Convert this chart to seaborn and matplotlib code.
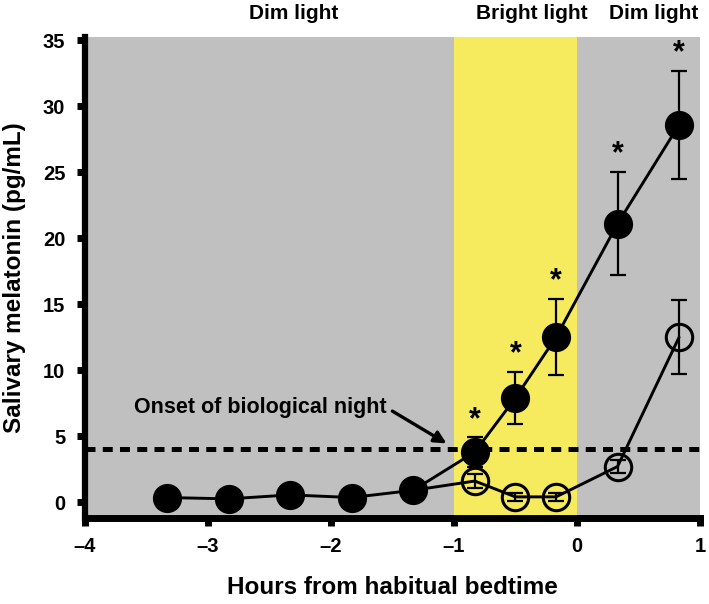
import matplotlib
matplotlib.use("Agg")
import matplotlib.pyplot as plt
import seaborn as sns
import numpy as np
import pandas as pd

# Data
bright_x = [-3.33, -2.83, -2.33, -1.83, -1.33, -0.83, -0.50, -0.17, 0.33, 0.83]
bright_y = [0.35, 0.25, 0.55, 0.35, 0.9, 3.8, 7.9, 12.5, 21.1, 28.6]
bright_err = [0.3, 0.3, 0.3, 0.3, 0.4, 1.1, 2.0, 2.9, 3.9, 4.1]
dim_x = [-1.33, -0.83, -0.50, -0.17, 0.33, 0.83]
dim_y = [0.9, 1.6, 0.4, 0.4, 2.7, 12.5]
dim_err = [0.4, 0.5, 0.3, 0.3, 0.5, 2.8]
sig_x = [-0.83, -0.50, -0.17, 0.33, 0.83]
threshold = 4
x_ticks = [-4, -3, -2, -1, 0, 1]
x_tick_labels = ["\u20134", "\u20133", "\u20132", "\u20131", "0", "1"]
y_ticks = [0, 5, 10, 15, 20, 25, 30, 35]

sns.set_theme(style="ticks")
plt.rcParams['font.family'] = ['Liberation Sans', 'DejaVu Sans']
plt.rcParams['font.weight'] = 'bold'
plt.rcParams['text.color'] = 'black'
plt.rcParams['axes.labelcolor'] = 'black'
plt.rcParams['xtick.color'] = 'black'
plt.rcParams['ytick.color'] = 'black'
plt.rcParams['axes.edgecolor'] = 'black'

fig = plt.figure(figsize=(7.09, 6.04), dpi=100)
ax = fig.add_axes([0.1195, 0.1424, 0.8678, 0.7963])
ax.set_xlim(-4, 1)
ax.set_ylim(-1.2, 35.25)

gray = "#c0c0c0"
yellow = "#f6ea5e"
ax.set_facecolor(gray)
ax.axvspan(-1, 0, color=yellow, zorder=0, lw=0)

ax.axhline(threshold, color="black", lw=3.6, dashes=(2.0, 1.45), zorder=1)

bdf = pd.DataFrame({"x": bright_x, "y": bright_y})
ddf = pd.DataFrame({"x": dim_x, "y": dim_y})

# error bars
ax.errorbar(dim_x[1:], dim_y[1:], yerr=dim_err[1:], fmt="none", ecolor="black",
            elinewidth=1.6, capsize=6, capthick=1.6, zorder=2)
ax.errorbar(bright_x, bright_y, yerr=bright_err, fmt="none", ecolor="black",
            elinewidth=1.6, capsize=6, capthick=1.6, zorder=2)

sns.lineplot(data=ddf, x="x", y="y", color="black", lw=2.1, ax=ax, zorder=3)
sns.lineplot(data=bdf, x="x", y="y", color="black", lw=2.1, ax=ax, zorder=3)

ax.plot(dim_x[1:], dim_y[1:], "o", ms=19, mfc="none", mec="black", mew=2.2, zorder=4)
ax.plot(bright_x, bright_y, "o", ms=20, mfc="black", mec="black", zorder=5)

# significance stars
for sx in sig_x:
    i = bright_x.index(sx)
    ax.text(sx, bright_y[i] + bright_err[i] + 0.2, "*", ha="center", va="bottom",
            fontsize=22, fontweight="bold", color="black", zorder=6)

# annotation
ax.text(-1.55, 7.2, "Onset of biological night", ha="right", va="center",
        fontsize=15.5, fontweight="bold")
ax.annotate("", xy=(-1.06, 4.45), xytext=(-1.5, 6.9),
            arrowprops=dict(arrowstyle="-|>", color="black", lw=2.4,
                            mutation_scale=18, shrinkA=0, shrinkB=0))

# labels above
for tx, lab in [(-2.3, "Dim light"), (-0.37, "Bright light"), (0.62, "Dim light")]:
    ax.text(tx, 37.0, lab, ha="center", va="center", fontsize=15, fontweight="bold")

ax.set_xticks(x_ticks)
ax.set_xticklabels(x_tick_labels)
ax.set_yticks(y_ticks)
ax.tick_params(axis="both", direction="out", width=5, length=6, color="black",
               labelsize=14.5, labelcolor="black")
ax.tick_params(axis="x", pad=8)
ax.tick_params(axis="y", pad=8)

ax.set_xlabel("Hours from habitual bedtime", fontsize=17.5, fontweight="bold", labelpad=14)
ax.set_ylabel("Salivary melatonin (pg/mL)", fontsize=17.5, fontweight="bold", labelpad=12)

for s in ["top", "right"]:
    ax.spines[s].set_visible(False)
ax.spines["left"].set_linewidth(4.5)
ax.spines["bottom"].set_linewidth(5)

fig.savefig("out.png", dpi=100)
